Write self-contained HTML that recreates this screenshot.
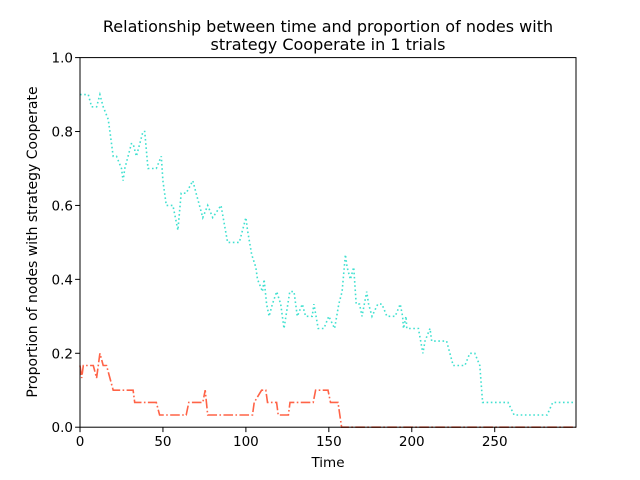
<!DOCTYPE html>
<html><head><meta charset="utf-8"><style>
body{margin:0;background:#fff;}
svg{display:block;font-family:"DejaVu Sans","Liberation Sans",sans-serif;}
</style></head><body>
<svg id="chart" width="640" height="480" viewBox="0 0 640 480">
<rect width="640" height="480" fill="#fff"/>
<g>
<text x="328" y="32" text-anchor="middle" font-size="16" fill="#000">Relationship between time and proportion of nodes with</text>
<text x="328" y="50" text-anchor="middle" font-size="16" fill="#000">strategy Cooperate in 1 trials</text>
</g>
<g id="series"></g>
<rect x="80" y="57.6" width="496" height="369.6" fill="none" stroke="#000" stroke-width="1"/>
<g id="xticks"></g>
<g id="yticks"></g>
<text x="328" y="467" text-anchor="middle" font-size="13.5">Time</text>
<text transform="translate(37,242) rotate(-90)" text-anchor="middle" font-size="14">Proportion of nodes with strategy Cooperate</text>
</svg>
<script>
const xTicks=[0,50,100,150,200,250];
const yTicks=[0,0.2,0.4,0.6,0.8,1.0];
const yTickLabels=["0.0","0.2","0.4","0.6","0.8","1.0"];
const coopTimes=[0,5,7,10,12,14,17,18,20,22,25,26,27,31,32,34,38,39,41,46,49,50,52,56,59,61,64,68,70,74,77,80,85,89,96,100,101,103.5,106,107,110,111,112.5,114,116,118.6,121,123,126.5,129,131,134,136,140,141,143.6,147,150,153.5,156,158,160,161,163,165,166.5,168.5,170,172.8,174,176,179.5,182,185,190,193,194.5,195,196.5,197,204,206.7,208,211,212,221,225,232,235,238,241,242.7,258,261.7,281.6,285,299];
const coopValues=[0.9,0.9,0.867,0.867,0.9,0.867,0.833,0.8,0.733,0.733,0.7,0.667,0.7,0.767,0.767,0.733,0.8,0.8,0.7,0.7,0.733,0.667,0.6,0.6,0.533,0.633,0.633,0.667,0.633,0.567,0.6,0.567,0.6,0.5,0.5,0.567,0.533,0.467,0.433,0.4,0.367,0.4,0.333,0.3,0.333,0.367,0.333,0.267,0.367,0.367,0.3,0.333,0.3,0.3,0.333,0.267,0.267,0.3,0.267,0.333,0.367,0.467,0.433,0.4,0.433,0.333,0.333,0.3,0.367,0.333,0.3,0.333,0.333,0.3,0.3,0.333,0.3,0.267,0.3,0.267,0.267,0.2,0.233,0.267,0.233,0.233,0.167,0.167,0.2,0.2,0.167,0.067,0.067,0.033,0.033,0.067,0.067];
const defTimes=[0,1,2,5,8,10,12,14,16,18,20,32,33,46,48,64,65.6,74,75.5,77,104,105,109.5,112,113,118.5,119.5,125.6,126.6,140.6,142,149.5,151,155.5,157.7,299];
const defValues=[0.167,0.133,0.167,0.167,0.167,0.133,0.2,0.167,0.167,0.133,0.1,0.1,0.067,0.067,0.033,0.033,0.067,0.067,0.1,0.033,0.033,0.067,0.1,0.1,0.067,0.067,0.033,0.033,0.067,0.067,0.1,0.1,0.067,0.067,0,0];
const NS='http://www.w3.org/2000/svg';
const X0=80,X1=576,Y0=427.2,Y1=57.6,XMAX=299;
function xs(t){return X0+(X1-X0)*t/XMAX;}
function ys(v){return Y0-(Y0-Y1)*v;}
const series=document.getElementById('series');
function line(times,vals,color,dash,name){
  const p=document.createElementNS(NS,'polyline');
  p.setAttribute('points',times.map((t,i)=>xs(t).toFixed(1)+','+ys(vals[i]).toFixed(1)).join(' '));
  p.setAttribute('fill','none');p.setAttribute('stroke',color);p.setAttribute('stroke-width','1.6');
  p.setAttribute('stroke-dasharray',dash);
  
  
  series.appendChild(p);
}
line(coopTimes,coopValues,'#40E0D0','1.6 2.6','cooperate-line');
line(defTimes,defValues,'#FF6347','9.6 2.4 1.6 2.4','defect-line');
const xg=document.getElementById('xticks');
xTicks.forEach(t=>{
  const l=document.createElementNS(NS,'line');
  l.setAttribute('x1',xs(t));l.setAttribute('x2',xs(t));l.setAttribute('y1',Y0);l.setAttribute('y2',Y0+4.9);l.setAttribute('stroke','#000');
  
  
  xg.appendChild(l);
  const tx=document.createElementNS(NS,'text');
  tx.setAttribute('x',xs(t));tx.setAttribute('y',446);tx.setAttribute('text-anchor','middle');tx.setAttribute('font-size','13.5');
  tx.textContent=t;
  
  
  xg.appendChild(tx);
});
const yg=document.getElementById('yticks');
yTicks.forEach((v,i)=>{
  const l=document.createElementNS(NS,'line');
  l.setAttribute('x1',X0-4.9);l.setAttribute('x2',X0);l.setAttribute('y1',ys(v));l.setAttribute('y2',ys(v));l.setAttribute('stroke','#000');
  
  
  yg.appendChild(l);
  const tx=document.createElementNS(NS,'text');
  tx.setAttribute('x',X0-7);tx.setAttribute('y',ys(v)+5);tx.setAttribute('text-anchor','end');tx.setAttribute('font-size','13.5');
  tx.textContent=yTickLabels[i];
  
  
  yg.appendChild(tx);
});
</script>
</body></html>
